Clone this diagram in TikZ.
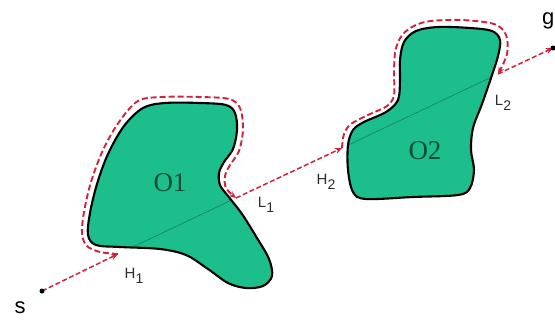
\documentclass[tikz,border=0pt]{standalone}
\usepackage{fontspec}
\setmainfont{Liberation Serif}
\newfontfamily\lsans{Liberation Sans}
\usetikzlibrary{arrows.meta}
\definecolor{obst}{RGB}{28,190,140}
\definecolor{pathred}{RGB}{205,35,60}
\definecolor{lbl}{RGB}{45,45,45}
\definecolor{olbl}{RGB}{20,75,55}
\definecolor{inner}{RGB}{20,130,95}
\begin{document}
\begin{tikzpicture}[x=1pt,y=-1pt,
  obstacle/.style={draw=black,line width=2.1pt},
  obstfill/.style={fill=obst},
  contour/.style={draw=pathred,line width=1.9pt,dash pattern=on 6pt off 3pt,-{Stealth[length=7pt,width=6pt]}},
  leg/.style={draw=pathred,line width=1.5pt,dash pattern=on 5pt off 2.5pt,-{Stealth[length=7pt,width=6pt]}},
  innerline/.style={draw=inner,line width=0.6pt},
  ptlbl/.style={text=lbl,font=\lsans\fontsize{15}{17}\selectfont,inner sep=0pt},
  endlbl/.style={text=black,font=\lsans\fontsize{22}{24}\selectfont,inner sep=0pt},
  objlbl/.style={text=olbl,font=\fontsize{27}{30}\selectfont,inner sep=0pt},
  dot/.style={circle,fill=black,inner sep=0pt,minimum size=5pt}
]
\useasboundingbox (0,0) rectangle (555,324);

% key points on the straight line s -> g
\coordinate (s) at (42,291);
\coordinate (h1) at (118,254);
\coordinate (l1) at (236,198);
\coordinate (h2) at (342,148);
\coordinate (l2) at (498,74);
\coordinate (g) at (553,48);

% Obstacle O1
\path[obstfill] plot[smooth cycle,tension=0.55] coordinates {
 (143,108) (165,103) (200,103) (226,105) (235,113) (237,130) (233,149) (224,162)
 (219,173) (220,185) (228,196) (242,214) (257,238) (269,259) (272,276) (263,286)
 (246,288) (228,283) (208,269) (186,255) (160,249) (120,247) (96,245) (88,235)
 (90,213) (97,184) (108,154) (124,126)};
\begin{scope}
\clip plot[smooth cycle,tension=0.55] coordinates {
 (143,108) (165,103) (200,103) (226,105) (235,113) (237,130) (233,149) (224,162)
 (219,173) (220,185) (228,196) (242,214) (257,238) (269,259) (272,276) (263,286)
 (246,288) (228,283) (208,269) (186,255) (160,249) (120,247) (96,245) (88,235)
 (90,213) (97,184) (108,154) (124,126)};
\draw[innerline] (h1) -- (l1);
\end{scope}
\draw[obstacle] plot[smooth cycle,tension=0.55] coordinates {
 (143,108) (165,103) (200,103) (226,105) (235,113) (237,130) (233,149) (224,162)
 (219,173) (220,185) (228,196) (242,214) (257,238) (269,259) (272,276) (263,286)
 (246,288) (228,283) (208,269) (186,255) (160,249) (120,247) (96,245) (88,235)
 (90,213) (97,184) (108,154) (124,126)};

% Obstacle O2
\path[obstfill] plot[smooth cycle,tension=0.55] coordinates {
 (404,42) (416,31) (438,27) (470,28) (492,31) (500,40) (498,56) (491,78)
 (482,104) (473,128) (471,150) (474,170) (470,188) (458,195) (413,197) (366,199)
 (353,192) (348,170) (348,145) (353,130) (364,122) (386,112) (398,100) (400,80) (400,60)};
\begin{scope}
\clip plot[smooth cycle,tension=0.55] coordinates {
 (404,42) (416,31) (438,27) (470,28) (492,31) (500,40) (498,56) (491,78)
 (482,104) (473,128) (471,150) (474,170) (470,188) (458,195) (413,197) (366,199)
 (353,192) (348,170) (348,145) (353,130) (364,122) (386,112) (398,100) (400,80) (400,60)};
\draw[innerline] (h2) -- (l2);
\end{scope}
\draw[obstacle] plot[smooth cycle,tension=0.55] coordinates {
 (404,42) (416,31) (438,27) (470,28) (492,31) (500,40) (498,56) (491,78)
 (482,104) (473,128) (471,150) (474,170) (470,188) (458,195) (413,197) (366,199)
 (353,192) (348,170) (348,145) (353,130) (364,122) (386,112) (398,100) (400,80) (400,60)};

% boundary-following contours
\draw[contour] plot[smooth,tension=0.55] coordinates {
 (h1) (100,252) (87,246) (82,234) (84,212) (91,182) (103,150) (119,122) (138,101)
 (162,97) (200,97) (229,99) (240,108) (243,129) (239,151) (230,165) (225,176) (226,188) (l1)};
\draw[contour] plot[smooth,tension=0.55] coordinates {
 (h2) (344,134) (351,124) (368,115) (387,106) (394,95) (394,70) (396,48) (405,32)
 (425,22) (460,20) (494,24) (506,35) (507,54) (l2)};

% straight legs
\draw[leg] (s) -- (h1);
\draw[leg] (l1) -- (h2);
\draw[leg] (l2) -- (g);

% end points
\node[dot] (sdot) at (s) {};
\node[dot] (gdot) at (g) {};

% labels
\node[endlbl] (slbl) at (20,308) {s};
\node[endlbl,anchor=east] (glbl) at (554.5,21) {g};
\node[ptlbl] (h1lbl) at (134,276) {H\raisebox{-5pt}{\fontsize{14}{16}\selectfont 1}};
\node[ptlbl] (l1lbl) at (266,205) {L\raisebox{-5pt}{\fontsize{14}{16}\selectfont 1}};
\node[ptlbl] (h2lbl) at (326,182) {H\raisebox{-5pt}{\fontsize{14}{16}\selectfont 2}};
\node[ptlbl] (l2lbl) at (503,103) {L\raisebox{-5pt}{\fontsize{14}{16}\selectfont 2}};
\node[objlbl] (o1lbl) at (170,183) {O1};
\node[objlbl] (o2lbl) at (425,151) {O2};
\end{tikzpicture}
\end{document}
